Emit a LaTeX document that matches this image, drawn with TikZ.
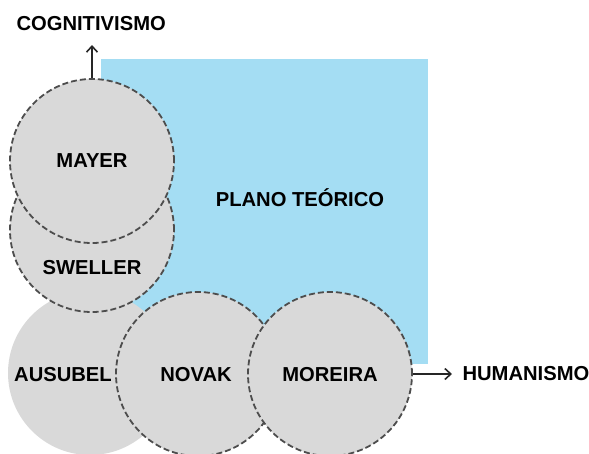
\documentclass[tikz,border=0pt]{standalone}
\usepackage{fontspec}
\usetikzlibrary{arrows.meta}
\setmainfont{Liberation Sans}
\definecolor{plano}{HTML}{A4DDF3}
\definecolor{circ}{HTML}{D9D9D9}
\definecolor{rim}{HTML}{4D4D4D}
\begin{document}
\begin{tikzpicture}[x=1pt,y=-1pt,
  lbl/.style={font=\fontsize{20.2}{23}\selectfont\bfseries, text=black},
  author/.style={circle, fill=circ, minimum size=164pt, inner sep=0pt, draw=rim, line width=1.8pt, dash pattern=on 6pt off 3pt},
  plain/.style={circle, fill=circ, minimum size=164pt, inner sep=0pt},
  axis/.style={-{Straight Barb[length=6pt,width=11pt,line width=1.6pt]}, line width=1.8pt, black!85}]
\useasboundingbox (0,0) rectangle (589,453);
\fill[plano] (101,59) rectangle (428,364);
\node[lbl] (plano) at (300,198) {PLANO TEÓRICO};
\node[plain] (ausubel) at (90,373) {};
\node[lbl] at (63,375) {AUSUBEL};
\node[author] (sweller) at (92,230) {};
\node[lbl] at (92,268) {SWELLER};
\node[author] (mayer) at (92,161) {};
\node[lbl] at (92,161) {MAYER};
\node[author] (novak) at (198,374) {};
\node[lbl] at (196,375) {NOVAK};
\node[author] (moreira) at (330,374) {};
\node[lbl] at (330,375) {MOREIRA};
\coordinate (up) at (92,45);
\coordinate (right) at (452,374);
\draw[axis] (mayer.north) -- (up);
\draw[axis] (moreira.east) -- (right);
\node[lbl, anchor=west] (cog) at (13,24) {COGNITIVISMO};
\node[lbl, anchor=west] (hum) at (459,374) {HUMANISMO};
\end{tikzpicture}
\end{document}
